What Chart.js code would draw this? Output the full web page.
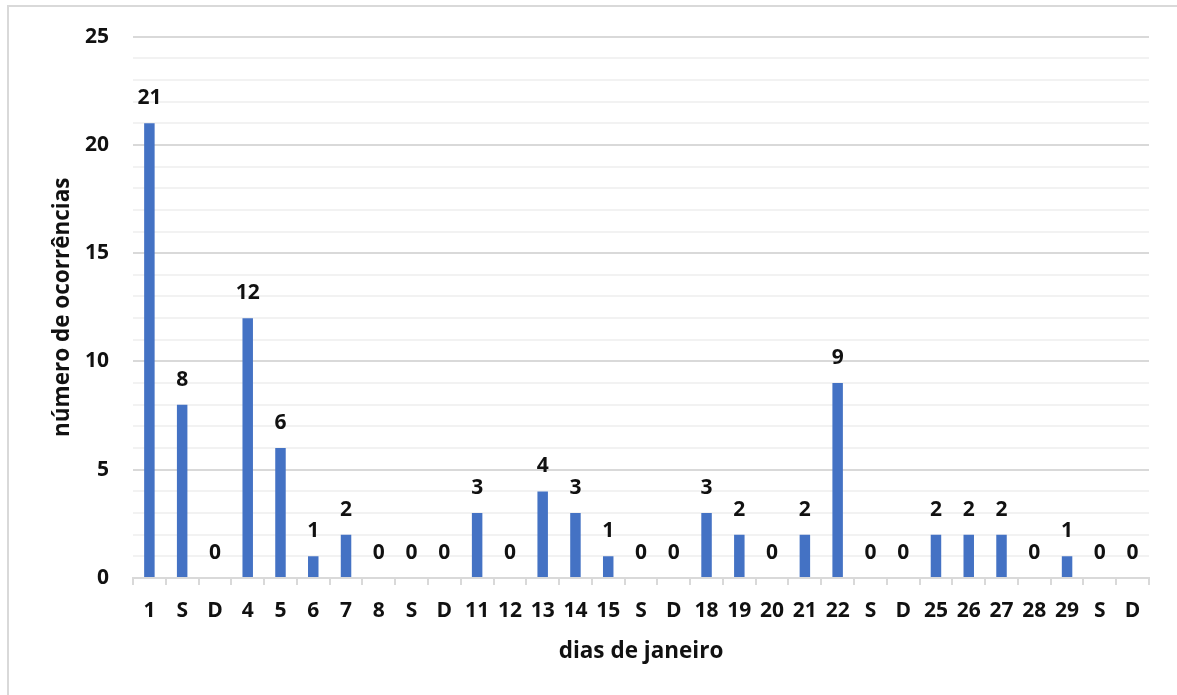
<!DOCTYPE html>
<html>
<head>
<meta charset="utf-8">
<script src="https://cdn.jsdelivr.net/npm/chart.js@4/dist/chart.umd.min.js"></script>
<style>
  body { margin: 0; background: #fff; }
</style>
</head>
<body>
<canvas id="ocorrencias" width="1177" height="695"></canvas>
<script>
var dias = ["1", "S", "D", "4", "5", "6", "7", "8", "S", "D", "11", "12", "13", "14", "15", "S", "D",
            "18", "19", "20", "21", "22", "S", "D", "25", "26", "27", "28", "29", "S", "D"];
var ocorrencias = [21, 8, 0, 12, 6, 1, 2, 0, 0, 0, 3, 0, 4, 3, 1, 0, 0,
                   3, 2, 0, 2, 9, 0, 0, 2, 2, 2, 0, 1, 0, 0];
var yTicks = [0, 5, 10, 15, 20, 25];

var fonte = "'Open Sans', Lato, sans-serif";
var corTexto = "#111";

// moldura cinza em volta do gráfico
var moldura = {
  id: "moldura",
  beforeDraw: function (chart) {
    var c = chart.ctx;
    c.save();
    c.strokeStyle = "#d9d9d9";
    c.lineWidth = 2;
    c.beginPath();
    c.moveTo(8, chart.height);
    c.lineTo(8, 6);
    c.lineTo(chart.width, 6);
    c.stroke();
    c.restore();
  }
};

// valor escrito acima de cada barra
var rotulos = {
  id: "rotulos",
  afterDatasetsDraw: function (chart) {
    var c = chart.ctx;
    var meta = chart.getDatasetMeta(0);
    c.save();
    c.font = "bold 21px " + fonte;
    c.fillStyle = corTexto;
    c.textAlign = "center";
    c.textBaseline = "middle";
    meta.data.forEach(function (bar, i) {
      c.fillText(ocorrencias[i], bar.x, bar.y - 25);
    });
    c.restore();
  }
};

new Chart("ocorrencias", {
  type: "bar",
  data: {
    labels: dias,
    datasets: [{
      data: ocorrencias,
      backgroundColor: "#4472C4",
      barPercentage: 0.32,
      categoryPercentage: 1
    }]
  },
  options: {
    responsive: false,
    animation: false,
    devicePixelRatio: 1,
    layout: {
      padding: { left: 0, top: 24, right: 28, bottom: 0 }
    },
    plugins: {
      legend: { display: false },
      tooltip: { enabled: false }
    },
    scales: {
      x: {
        afterFit: function (scale) { scale.height = 117; },
        border: { color: "#d9d9d9", width: 2 },
        grid: {
          offset: true,
          drawOnChartArea: false,
          drawTicks: true,
          tickLength: 7,
          color: "#d9d9d9",
          lineWidth: 2
        },
        ticks: {
          padding: 13,
          autoSkip: false,
          maxRotation: 0,
          color: corTexto,
          font: { family: fonte, size: 21, weight: "bold" }
        },
        title: {
          display: true,
          text: "dias de janeiro",
          color: corTexto,
          padding: { bottom: 30 },
          font: { family: fonte, size: 22.5, weight: "bold" }
        }
      },
      y: {
        min: 0,
        max: 25,
        afterFit: function (scale) { scale.width = 133; },
        border: { display: false },
        grid: {
          drawTicks: false,
          lineWidth: 2,
          color: function (ctx) {
            return yTicks.indexOf(ctx.tick.value) >= 0 ? "#d9d9d9" : "#f2f2f2";
          }
        },
        ticks: {
          stepSize: 1,
          maxTicksLimit: 30,
          autoSkip: false,
          padding: 24,
          color: corTexto,
          font: { family: fonte, size: 21, weight: "bold" },
          callback: function (v) { return yTicks.indexOf(v) >= 0 ? v : ""; }
        },
        title: {
          display: true,
          text: "número de ocorrências",
          color: corTexto,
          padding: { top: 49 },
          font: { family: fonte, size: 22.5, weight: "bold" }
        }
      }
    }
  },
  plugins: [moldura, rotulos]
});
</script>
</body>
</html>
